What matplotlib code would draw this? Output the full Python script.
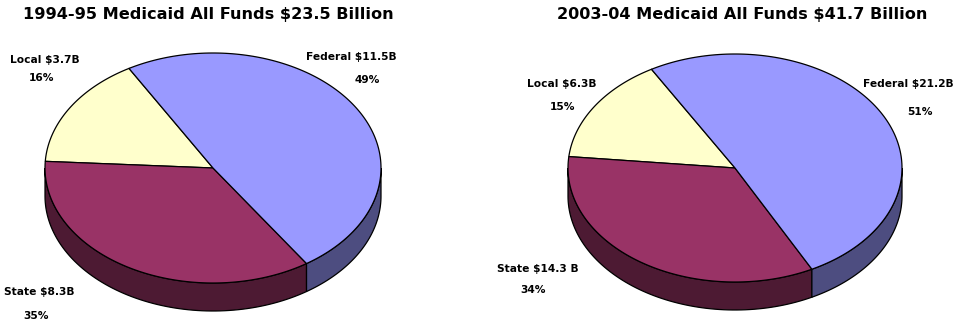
import numpy as np
import matplotlib.pyplot as plt
from matplotlib.patches import Polygon

plt.rcParams['font.family'] = ['DejaVu Sans']

# data
titles = ['1994-95 Medicaid All Funds $23.5 Billion',
          '2003-04 Medicaid All Funds $41.7 Billion']
names = ['Local', 'State', 'Federal']
labels_1 = ['Local $3.7B', 'State $8.3B', 'Federal $11.5B']
labels_2 = ['Local $6.3B', 'State $14.3 B', 'Federal $21.2B']
values_1 = [3.7, 8.3, 11.5]
values_2 = [6.3, 14.3, 21.2]

# style
top_colors = ['#FFFFCC', '#993366', '#9999FF']
side_colors = ['#FFFFCC', '#4D1A33', '#4D4D80']

# layout (pixels): center x, center y, semi-axes, depth, title x, label anchors
layouts = [
    dict(cx=213, cy=168, a=168, b=115, depth=28, tx=208,
         lab=[(45, 60, 42, 78), (39, 292, 36, 316), (351, 57, 367, 80)]),
    dict(cx=735, cy=168, a=167, b=114, depth=28, tx=742,
         lab=[(562, 84, 563, 107), (538, 269, 533, 290), (908, 84, 920, 112)]),
]

fig = plt.figure(figsize=(9.57, 3.26), dpi=100)
ax = fig.add_axes([0, 0, 1, 1])
ax.set_xlim(0, 957)
ax.set_ylim(326, 0)
ax.axis('off')


def pt(L, t, dy=0):
    t = np.radians(t)
    return np.column_stack([L['cx'] + L['a'] * np.cos(t),
                            L['cy'] - L['b'] * np.sin(t) + dy])


for title, labels, values, L in zip(titles, [labels_1, labels_2],
                                    [values_1, values_2], layouts):
    vals = np.array(values)
    fr = vals / vals.sum()
    bounds = 120 + np.concatenate([[0], np.cumsum(fr * 360)])

    # sides (front half only: 180..360 deg)
    for i in range(len(vals)):
        t0, t1 = bounds[i], bounds[i + 1]
        for lo, hi in [(180, 360), (540, 720)]:
            s, e = max(t0, lo), min(t1, hi)
            if e <= s:
                continue
            ts = np.linspace(s, e, 80)
            poly = np.vstack([pt(L, ts), pt(L, ts[::-1], L['depth'])])
            ax.add_patch(Polygon(poly, closed=True, facecolor=side_colors[i],
                                 edgecolor='black', linewidth=0.9))

    # top wedges
    for i in range(len(vals)):
        ts = np.linspace(bounds[i], bounds[i + 1], 150)
        poly = np.vstack([[L['cx'], L['cy']], pt(L, ts)])
        ax.add_patch(Polygon(poly, closed=True, facecolor=top_colors[i],
                             edgecolor='black', linewidth=0.9))

    ax.text(L['tx'], 15, title, ha='center', va='center',
            fontsize=11.6, fontweight='bold')
    for i, (lx, ly, px, py) in enumerate(L['lab']):
        ax.text(lx, ly, labels[i], ha='center', va='center',
                fontsize=7.7, fontweight='bold')
        ax.text(px, py, f'{round(fr[i] * 100):.0f}%', ha='center',
                va='center', fontsize=7.7, fontweight='bold')

fig.savefig('out.png', dpi=100)
